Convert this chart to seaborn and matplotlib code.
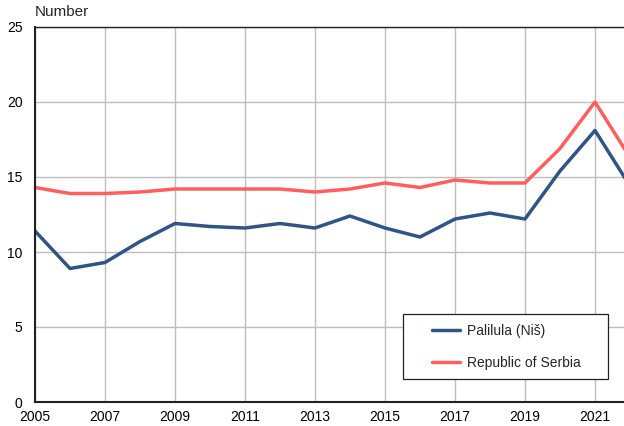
import pandas as pd
import matplotlib.pyplot as plt
import seaborn as sns
from matplotlib.patches import Rectangle

# Données
years = list(range(2005, 2023))
palilula = [11.4, 8.9, 9.3, 10.7, 11.9, 11.7, 11.6, 11.9, 11.6, 12.4,
            11.6, 11.0, 12.2, 12.6, 12.2, 15.4, 18.1, 14.4]
serbia = [14.3, 13.9, 13.9, 14.0, 14.2, 14.2, 14.2, 14.2, 14.0, 14.2,
          14.6, 14.3, 14.8, 14.6, 14.6, 16.9, 20.0, 16.3]
series_names = ['Palilula (Niš)', 'Republic of Serbia']
x_ticks = list(range(2005, 2022, 2))
y_ticks = [0, 5, 10, 15, 20, 25]

df = pd.DataFrame({
    'Year': years * 2,
    'Value': palilula + serbia,
    'Area': [series_names[0]] * len(years) + [series_names[1]] * len(years),
})

sns.set_theme(style='white')
plt.rcParams['font.family'] = ['Liberation Sans', 'DejaVu Sans']

W, H = 624, 426
fig = plt.figure(figsize=(W / 100, H / 100), dpi=100)
# l'axe dépasse à droite de la figure (graphique coupé)
ax = fig.add_axes([35 / W, 24 / H, 595 / W, 375 / H])

palette = {series_names[0]: '#2F5486', series_names[1]: '#FF5F5F'}
sns.lineplot(data=df, x='Year', y='Value', hue='Area', palette=palette,
             linewidth=2.5, ax=ax, legend=True)

ax.set_xlim(2005, 2022)
ax.set_ylim(0, 25)
ax.set_xticks(x_ticks)
ax.set_yticks(y_ticks)
ax.set_xlabel('')
ax.set_ylabel('')
ax.grid(True, color='#BDBDBD', linewidth=1)
ax.set_axisbelow(True)
ax.tick_params(axis='both', length=0, labelsize=10, colors='black')
ax.tick_params(axis='x', pad=6)
ax.tick_params(axis='y', pad=9)
for side in ['left', 'bottom']:
    ax.spines[side].set_color('#222222')
    ax.spines[side].set_linewidth(1.5)
ax.spines['top'].set_color('#222222')
ax.spines['top'].set_linewidth(1.0)
ax.spines['right'].set_visible(False)

# Légende
handles, labels = ax.get_legend_handles_labels()
ax.legend(handles, labels, loc='center left', bbox_to_anchor=(0.668, 0.147),
          frameon=False, fontsize=10, handlelength=2.0, handletextpad=0.5,
          labelspacing=1.3, borderpad=0, borderaxespad=0)
for h in ax.get_legend().get_lines():
    h.set_linewidth(2.5)
ax.add_patch(Rectangle((0.618, 0.061), 0.345, 0.174, transform=ax.transAxes,
                       facecolor='white', edgecolor='#222222', linewidth=0.9,
                       zorder=4.5))

fig.text(35 / W, 1 - 12 / H, 'Number', fontsize=11, va='center', ha='left')

fig.savefig('out.png', dpi=100)
